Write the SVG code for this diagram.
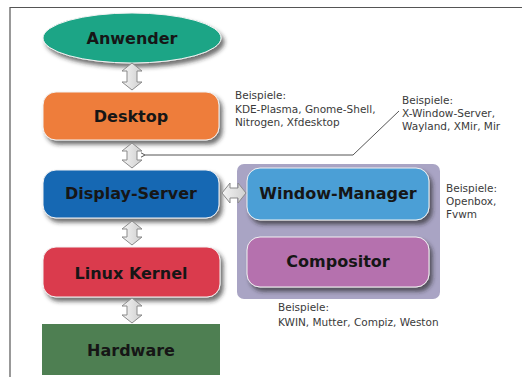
<svg xmlns="http://www.w3.org/2000/svg" width="522" height="377" viewBox="0 0 522 377">
  <defs>
    <filter id="shadow" x="-20%" y="-30%" width="150%" height="180%">
      <feDropShadow dx="3" dy="4" stdDeviation="2.2" flood-color="#222" flood-opacity="0.65"/>
    </filter>
    <linearGradient id="arrowFill" x1="0" y1="0" x2="1" y2="0">
      <stop offset="0" stop-color="#f4f4f4"/>
      <stop offset="1" stop-color="#cfcfcf"/>
    </linearGradient>
    <marker id="tip" markerWidth="6" markerHeight="6" refX="1" refY="3" orient="auto-start-reverse" markerUnits="userSpaceOnUse">
      <path d="M5,0.8 L1,3 L5,5.2" fill="none" stroke="#555" stroke-width="1"/>
    </marker>
  </defs>
  <style>
    .label { font-family: "DejaVu Sans", "Liberation Sans", sans-serif; font-weight: bold; font-size: 16px; fill: #161616; text-anchor: middle; }
    .note { font-family: "DejaVu Sans", "Liberation Sans", sans-serif; font-size: 10.5px; fill: #3a3a3a; }
    .box { stroke: #f2f2f2; stroke-width: 1; filter: url(#shadow); }
    .dbl { fill: url(#arrowFill); stroke: #8a8a8a; stroke-width: 1; }
    .frame { stroke: #555; stroke-width: 1.2; fill: none; }
    .lead { stroke: #555; stroke-width: 1; fill: none; }
  </style>

  <rect width="522" height="377" fill="#ffffff"/>

  <!-- page frame: top and left edges -->
  <path class="frame" d="M10,377 L10,7.5 L522,7.5"/>

  <!-- stack container for window manager + compositor -->
  <g id="wm-group">
    <rect x="237" y="164" width="203" height="135" rx="7" fill="#a9a4c4"/>
  </g>

  <g id="anwender">
    <ellipse class="box" cx="132" cy="38" rx="89" ry="25" fill="#1ba586"/>
    <text class="label" x="132" y="43.5">Anwender</text>
  </g>

  <g id="desktop">
    <rect class="box" x="43" y="92" width="176" height="48" rx="13" fill="#ee7d3b"/>
    <text class="label" x="131" y="121.5">Desktop</text>
  </g>

  <g id="display-server">
    <rect class="box" x="43" y="170" width="176" height="48" rx="13" fill="#1767b3"/>
    <text class="label" x="131" y="199">Display-Server</text>
  </g>

  <g id="linux-kernel">
    <rect class="box" x="43" y="247" width="177" height="50" rx="13" fill="#da3a4d"/>
    <text class="label" x="131" y="279">Linux Kernel</text>
  </g>

  <g id="hardware">
    <rect x="42" y="324" width="178" height="51" fill="#4e7f52"/>
    <text class="label" x="131" y="356">Hardware</text>
  </g>

  <g id="window-manager">
    <rect class="box" x="247" y="168" width="182" height="52" rx="13" fill="#4b9fd6"/>
    <text class="label" x="338" y="199">Window-Manager</text>
  </g>

  <g id="compositor">
    <rect class="box" x="247" y="237" width="182" height="50" rx="13" fill="#b571ae"/>
    <text class="label" x="338" y="267">Compositor</text>
  </g>

  <!-- double-headed arrows and the leader line -->
  <g id="connectors">
    <path class="dbl" d="M132,63 L142,71 L137,71 L137,82 L142,82 L132,90 L122,82 L127,82 L127,71 L122,71 Z"/>
    <path class="dbl" d="M132,143 L142,151 L137,151 L137,160 L142,160 L132,168 L122,160 L127,160 L127,151 L122,151 Z"/>
    <path class="dbl" d="M132,221 L142,229 L137,229 L137,237 L142,237 L132,245 L122,237 L127,237 L127,229 L122,229 Z"/>
    <path class="dbl" d="M132,298 L142,306 L137,306 L137,315 L142,315 L132,323 L122,315 L127,315 L127,306 L122,306 Z"/>
    <path class="dbl" d="M222,193 L230,183 L230,188 L238,188 L238,183 L246,193 L238,203 L238,198 L230,198 L230,203 Z"/>
    <path class="lead" d="M145,155 L353,155 L399,111" marker-start="url(#tip)"/>
  </g>

  <g id="notes">
    <text class="note" x="235" y="99">Beispiele:</text>
    <text class="note" x="235" y="112.5">KDE-Plasma, Gnome-Shell,</text>
    <text class="note" x="235" y="126">Nitrogen, Xfdesktop</text>

    <text class="note" x="402" y="104">Beispiele:</text>
    <text class="note" x="402" y="117">X-Window-Server,</text>
    <text class="note" x="402" y="130">Wayland, XMir, Mir</text>

    <text class="note" x="446" y="192">Beispiele:</text>
    <text class="note" x="446" y="205">Openbox,</text>
    <text class="note" x="446" y="218">Fvwm</text>

    <text class="note" x="278" y="311">Beispiele:</text>
    <text class="note" x="278" y="326">KWIN, Mutter, Compiz, Weston</text>
  </g>
</svg>
